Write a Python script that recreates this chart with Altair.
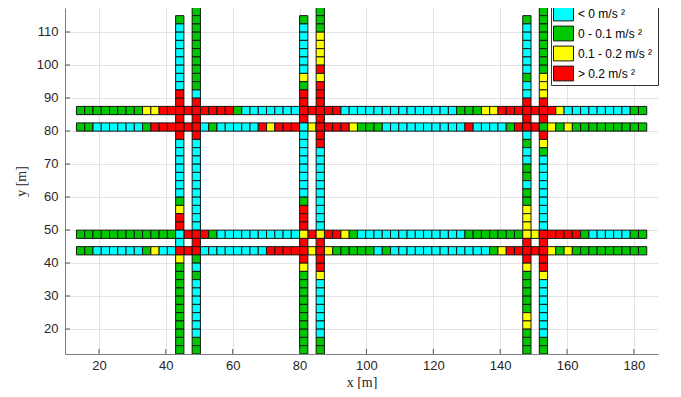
import altair as alt
import pandas as pd

# ---------------- data ----------------
LEGEND = ["< 0 m/s  \u00b2", "0 - 0.1 m/s  \u00b2", "0.1 - 0.2 m/s  \u00b2", "> 0.2 m/s  \u00b2"]
COLORS = ["#00FFFF", "#00C800", "#FFFF00", "#FF0000"]
CODES = ["C", "G", "Y", "R"]

# lattice (metres)
X_START = 14.5      # centre of first cell along x
X_STEP = 2.472      # cell pitch along x
Y_STEP = 2.5        # cell pitch along y
Y_TOP = 113.7       # centre of row index 0 of the vertical lanes

# horizontal lanes: centre y and colour codes (west -> east)
H_Y = [86.2, 81.2, 48.7, 43.7]
H_LANES = [
    "GGGGGGGGYYRRRRRRRRRGCCCCCCCRRRRRCCCCCCCCCCCCCCGGGYYRRRRRRRYCCCCCCCCGG",
    "GGCCCCCCGRRRRRRCGCCCCCRYRRRCYRRRRYGGGCCCCCCCCCCRCCCCGRRRGYGYGGGGGGGGG",
    "GGGGGGGGGGGGCRRRGCCCCCCCCCCYRYRRYGCCCCCCCCCCCCCGGGGGGGYYRRRRRGCCCCCGG",
    "GGCCCCCCGYCCRRRCCCCCCCCRRRRRYRYGGGGGCGCCCCCCCCCCCCGYRRRRRYGYGGGGGGGGG",
]

# vertical lanes: column index on the x lattice, first row index, codes (north -> south)
V_COL = [12, 14, 27, 29, 54, 56]
V_FIRST = [0, -1, 0, -1, 0, -1]
V_LANES = [
    "GCCCCCCCCRRRRRRCCCCCCCGYRRCCRYGGGGGGGGGGG",
    "GGGGGGGGGGCRRRRRCCCCCCCCCCCRRRGCGCCCCCCCGG",
    "GCCCCCCYGRRRRCCCCCCCCCGRRRYRRRYGGGGGGGGGG",
    "GGGYYYYRYRRRRRRRRCCCCCCCCCCYRRRRYCCCCCCCGG",
    "GCCCCCCGCCRRRRCGCCGGCGGYYYYRRRYGGGGGYYGGG",
    "GGGGGGGGYYYRRRGRYGCCCCCCCCCRRRRRYCCCCCCCGG",
]

X_TICKS = [20, 40, 60, 80, 100, 120, 140, 160, 180]
Y_TICKS = [20, 30, 40, 50, 60, 70, 80, 90, 100, 110]
X_DOMAIN = [9.84, 187.2]
Y_DOMAIN = [12.42, 117.27]

# ---------------- table ----------------
rows = []
for yc, lane in zip(H_Y, H_LANES):
    for j, c in enumerate(lane):
        rows.append({"xc": X_START + X_STEP * j, "yc": yc, "cat": LEGEND[CODES.index(c)]})
for col, first, lane in zip(V_COL, V_FIRST, V_LANES):
    for k, c in enumerate(lane):
        rows.append({"xc": X_START + X_STEP * col, "yc": Y_TOP - Y_STEP * (first + k),
                     "cat": LEGEND[CODES.index(c)]})
df = pd.DataFrame(rows)
df["x1"] = df.xc - X_STEP / 2
df["x2"] = df.xc + X_STEP / 2
df["y1"] = df.yc - Y_STEP / 2
df["y2"] = df.yc + Y_STEP / 2

W, H = 593, 346
xs = alt.Scale(domain=X_DOMAIN, nice=False, zero=False)
ys = alt.Scale(domain=Y_DOMAIN, nice=False, zero=False)

axis_common = dict(grid=True, gridColor="#e3e3e3", gridWidth=1, ticks=False,
                   domainColor="#7f7f7f", domainWidth=1,
                   labelColor="#262626", labelFont="Liberation Sans", labelFontSize=13,
                   titleFont="Liberation Serif", titleFontSize=14, titleFontWeight="normal",
                   titleColor="#262626")
x_axis = alt.Axis(values=X_TICKS, title="x [m]", labelPadding=5, titlePadding=3, **axis_common)
y_axis = alt.Axis(values=Y_TICKS, title="y [m]", labelPadding=7, titlePadding=8, **axis_common)

cells = alt.Chart(df).mark_rect(stroke="#151515", strokeWidth=1, clip=True).encode(
    x=alt.X("x1:Q", scale=xs, axis=x_axis),
    x2="x2:Q",
    y=alt.Y("y1:Q", scale=ys, axis=y_axis),
    y2="y2:Q",
    color=alt.Color("cat:N", scale=alt.Scale(domain=LEGEND, range=COLORS),
                    legend=alt.Legend(title=None, orient="none", legendX=486, legendY=-7,
                                      direction="vertical",
                                      symbolType="M-1,-0.74L1,-0.74L1,0.74L-1,0.74Z",
                                      symbolSize=400, symbolStrokeColor="#151515",
                                      symbolStrokeWidth=1, symbolOpacity=1,
                                      labelFont="Liberation Sans", labelFontSize=12,
                                      labelColor="#000000", labelOffset=4, labelLimit=300,
                                      fillColor="white", strokeColor="#333333",
                                      padding=2, rowPadding=-1)),
)

tick_len = 5
xt = alt.Chart(pd.DataFrame({"t": X_TICKS})).mark_rule(color="#555555").encode(
    x=alt.X("t:Q", scale=xs, axis=x_axis), y=alt.value(H), y2=alt.value(H - tick_len))
yt = alt.Chart(pd.DataFrame({"t": Y_TICKS})).mark_rule(color="#555555").encode(
    y=alt.Y("t:Q", scale=ys, axis=y_axis), x=alt.value(0), x2=alt.value(tick_len))

chart = alt.layer(cells, xt, yt).properties(
    width=W, height=H,
    autosize=alt.AutoSizeParams(type="none"),
    padding={"left": 57, "top": 0, "right": 15, "bottom": 35},
).configure_view(stroke=None)

chart.save("out.html", embed_options={"renderer": "svg", "actions": False})
